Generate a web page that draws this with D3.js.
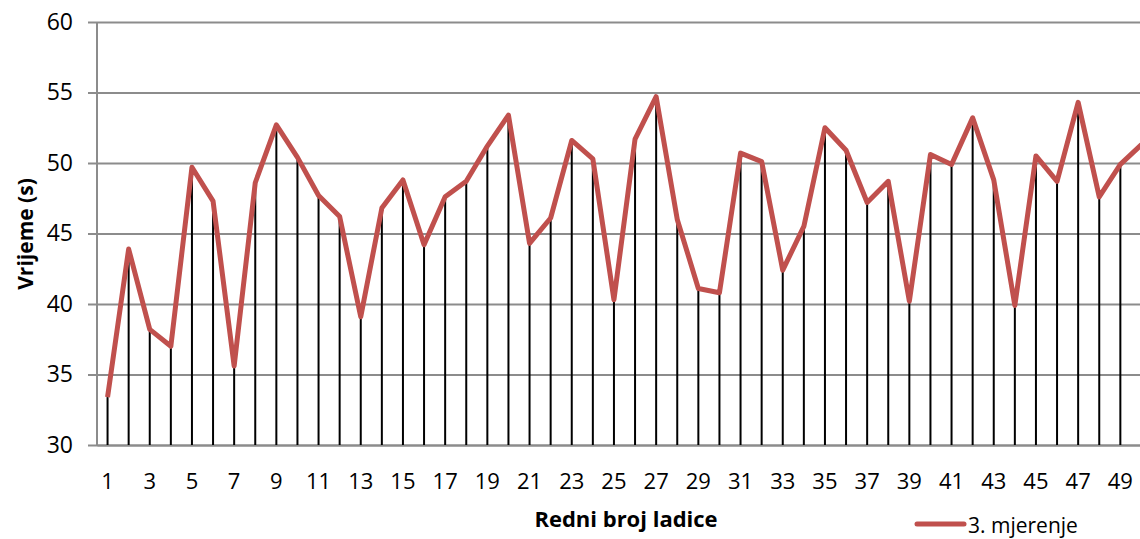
<!DOCTYPE html>
<html>
<head>
<meta charset="utf-8">
<script src="https://cdn.jsdelivr.net/npm/d3@7"></script>
<style>
  html, body { margin: 0; padding: 0; background: #fff; }
  svg { display: block; font-family: "Open Sans", Lato, sans-serif; }
</style>
</head>
<body>
<div id="chart"></div>
<script>
// drawer number (category) and measured time
var drawers = d3.range(1, 51);
var times = [
  33.4, 43.9, 38.2, 37.0, 49.7, 47.3, 35.6, 48.6, 52.7, 50.4,
  47.7, 46.2, 39.1, 46.8, 48.8, 44.2, 47.6, 48.7, 51.2, 53.4,
  44.3, 46.1, 51.6, 50.3, 40.3, 51.7, 54.7, 46.0, 41.1, 40.8,
  50.7, 50.1, 42.4, 45.5, 52.5, 50.9, 47.2, 48.7, 40.2, 50.6,
  49.9, 53.2, 48.8, 39.9, 50.5, 48.7, 54.3, 47.6, 49.9, 51.3
];
var yTicks = [30, 35, 40, 45, 50, 55, 60];
var seriesName = "3. mjerenje";

var width = 1140, height = 539;
var plotLeft = 97, plotTop = 22, plotBottom = 445;
var band = 21.1;
var font = "'Open Sans', Lato, sans-serif";

var svg = d3.select("#chart").append("svg")
  .attr("width", width)
  .attr("height", height);

var x = d3.scaleBand()
  .domain(drawers)
  .range([plotLeft, plotLeft + drawers.length * band]);

var y = d3.scaleLinear()
  .domain([30, 60])
  .range([plotBottom, plotTop]);

var cx = function (d) { return x(d) + x.bandwidth() / 2; };

// gridlines + y axis
var yAxis = svg.append("g")
  .attr("transform", "translate(" + plotLeft + ",0)")
  .call(d3.axisLeft(y).tickValues(yTicks).tickSize(-(width - plotLeft)).tickPadding(24));
yAxis.attr("font-family", font);
yAxis.select(".domain").remove();
yAxis.selectAll(".tick line")
  .attr("x1", -9)
  .attr("stroke", "#8c8c8c")
  .attr("stroke-width", 2);
yAxis.selectAll(".tick text")
  .attr("fill", "#000")
  .style("font-size", "23px");

svg.append("line")
  .attr("x1", plotLeft).attr("x2", plotLeft)
  .attr("y1", plotTop).attr("y2", plotBottom)
  .attr("stroke", "#8c8c8c")
  .attr("stroke-width", 2);

// x axis
var xAxis = svg.append("g")
  .attr("transform", "translate(0," + plotBottom + ")")
  .call(d3.axisBottom(x)
    .tickValues(drawers.filter(function (d) { return d % 2 === 1; }))
    .tickSize(0).tickPadding(28));
xAxis.attr("font-family", font);
xAxis.select(".domain")
  .attr("stroke", "#8c8c8c")
  .attr("stroke-width", 2);
xAxis.selectAll(".tick text")
  .attr("fill", "#000")
  .style("font-size", "22px");

// drop lines
svg.append("g").selectAll("line")
  .data(drawers)
  .enter().append("line")
  .attr("x1", cx).attr("x2", cx)
  .attr("y1", function (d, i) { return y(times[i]); })
  .attr("y2", plotBottom)
  .attr("stroke", "#000")
  .attr("stroke-width", 2);

// series line
var line = d3.line()
  .x(function (d) { return cx(d); })
  .y(function (d, i) { return y(times[i]); });

svg.append("path")
  .datum(drawers)
  .attr("d", line)
  .attr("fill", "none")
  .attr("stroke", "#c0504d")
  .attr("stroke-width", 5)
  .attr("stroke-linejoin", "round");

// axis titles
svg.append("text")
  .attr("transform", "translate(33,234) rotate(-90)")
  .attr("text-anchor", "middle")
  .style("font-size", "21px")
  .style("font-weight", "bold")
  .text("Vrijeme (s)");

svg.append("text")
  .attr("x", 626).attr("y", 527)
  .attr("text-anchor", "middle")
  .style("font-size", "22px")
  .style("font-weight", "bold")
  .text("Redni broj ladice");

// legend (sits at the very bottom edge)
svg.append("line")
  .attr("x1", 917).attr("x2", 964)
  .attr("y1", 524).attr("y2", 524)
  .attr("stroke", "#c0504d")
  .attr("stroke-width", 5)
  .attr("stroke-linecap", "round");
svg.append("text")
  .attr("x", 968).attr("y", 533)
  .style("font-size", "21px")
  .text(seriesName);
</script>
</body>
</html>
